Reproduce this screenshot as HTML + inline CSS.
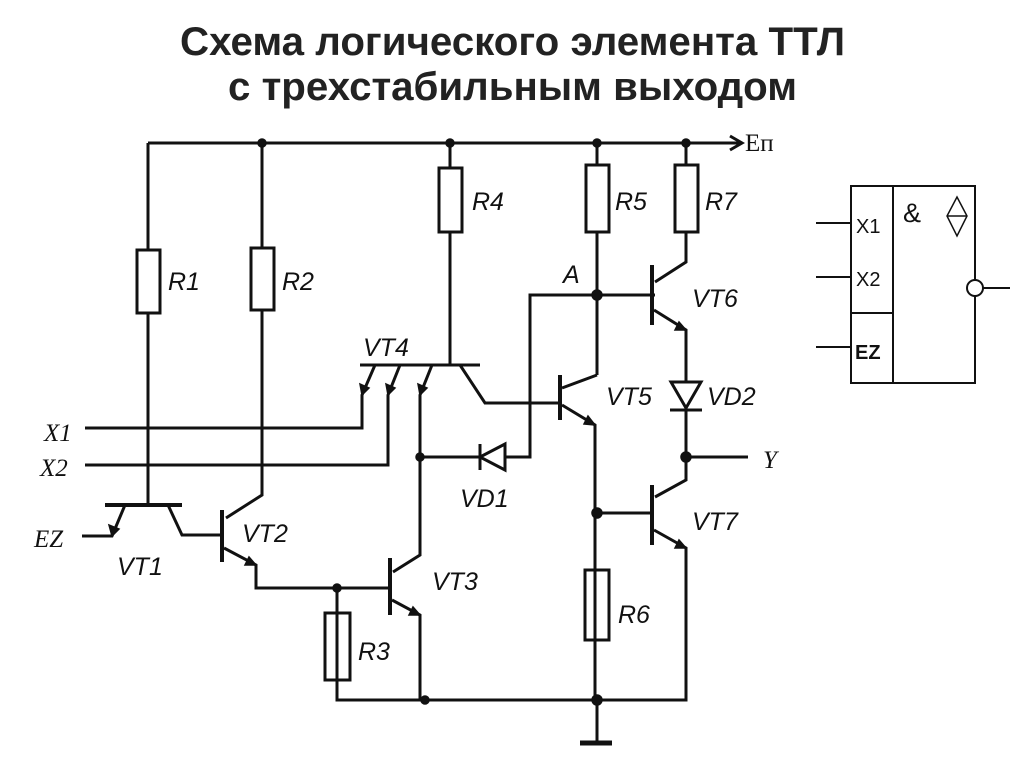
<!DOCTYPE html>
<html><head><meta charset="utf-8"><style>
html,body{margin:0;padding:0;background:#fff;}
svg{display:block}
.t{font-family:"Liberation Sans",sans-serif;font-weight:bold;font-size:40px;fill:#222}
.l{font-family:"Liberation Sans",sans-serif;font-style:italic;font-size:25px;fill:#111}
.s{font-family:"Liberation Serif",serif;font-style:italic;font-size:25px;fill:#111}
</style></head><body>
<svg width="1024" height="767" viewBox="0 0 1024 767">
<text class="t" x="180" y="55" textLength="665" lengthAdjust="spacingAndGlyphs">Схема логического элемента ТТЛ</text>
<text class="t" x="228" y="100" textLength="569" lengthAdjust="spacingAndGlyphs">с трехстабильным выходом</text>
<g stroke="#111" stroke-width="3" fill="none">
<path d="M148 143H742M730 136L742 143L730 150"/>
<path d="M148 143V250M148 313V505"/><rect x="137" y="250" width="23" height="63"/>
<path d="M262 143V248M262 310V495L226 518"/><rect x="251" y="248" width="23" height="62"/>
<path d="M450 143V168M450 232V365"/><rect x="439" y="168" width="23" height="64"/>
<path d="M597 143V165M597 232V375"/><rect x="586" y="165" width="23" height="67"/>
<path d="M686 143V165M686 232V262L655 282"/><rect x="675" y="165" width="23" height="67"/>
<path d="M360 365H480"/>
<path d="M375 365L362 395V428H85"/>
<path d="M400 365L388 395V465H85"/>
<path d="M432 365L420 395V457"/>
<path d="M460 365L485 403H558"/>
<path d="M420 457H530V295H655"/>
<path d="M420 457V555L393 572"/>
<path d="M560 375V420" stroke-width="4"/>
<path d="M562 388L597 375M562 405L595 425V700"/>
<path d="M652 265V325" stroke-width="4"/>
<path d="M654 310L686 330V457H748M686 457V480L655 497"/>
<path d="M652 485V545" stroke-width="4"/>
<path d="M597 513H652M654 530L686 548V700H337V588"/>
<path d="M105 505H182" stroke-width="4"/>
<path d="M125 505L112 536H82M168 505L182 535H222"/>
<path d="M222 510V562" stroke-width="4"/>
<path d="M224 548L256 565V588H390"/>
<path d="M390 558V615" stroke-width="4"/>
<path d="M392 600L420 615V700"/>
<rect x="325" y="613" width="25" height="67"/>
<rect x="585" y="570" width="24" height="70"/>
<path d="M597 700V742"/>
<path d="M580 743H612" stroke-width="5"/>
</g>
<g fill="#111" stroke="#111" stroke-width="1.5">
<path d="M362 395L360 384L369 388Z"/>
<path d="M388 395L386 384L395 388Z"/>
<path d="M420 395L418 384L427 388Z"/>
<path d="M112 536L109 525L119 529Z"/>
<path d="M256 565L245 565L249 557Z"/>
<path d="M420 615L409 615L413 607Z"/>
<path d="M595 425L584 424L588 416Z"/>
<path d="M686 330L675 330L679 322Z"/>
<path d="M686 548L675 548L679 540Z"/>
<circle cx="262" cy="143" r="4"/><circle cx="450" cy="143" r="4"/><circle cx="597" cy="143" r="4"/><circle cx="686" cy="143" r="4"/>
<circle cx="597" cy="295" r="5"/><circle cx="420" cy="457" r="4"/><circle cx="686" cy="457" r="5"/>
<circle cx="597" cy="513" r="5"/><circle cx="337" cy="588" r="4"/><circle cx="425" cy="700" r="4"/><circle cx="597" cy="700" r="5"/>
</g>
<g stroke="#111" stroke-width="3" fill="#fff">
<path d="M505 444L505 470L480 457Z"/>
<path d="M480 444V470"/>
<path d="M671 382H701L686 408Z"/>
<path d="M670 410H702"/>
</g>
<text font-family="Liberation Serif,serif" font-size="25" fill="#111" x="745" y="151">Eп</text>
<text class="l" x="168" y="290">R1</text>
<text class="l" x="282" y="290">R2</text>
<text class="l" x="472" y="210">R4</text>
<text class="l" x="615" y="210">R5</text>
<text class="l" x="705" y="210">R7</text>
<text class="l" x="363" y="356">VT4</text>
<text class="l" x="563" y="283">A</text>
<text class="l" x="692" y="307">VT6</text>
<text class="l" x="606" y="405">VT5</text>
<text class="l" x="707" y="405">VD2</text>
<text class="s" x="763" y="468">Y</text>
<text class="l" x="692" y="530">VT7</text>
<text class="l" x="460" y="507">VD1</text>
<text class="l" x="242" y="542">VT2</text>
<text class="l" x="117" y="575">VT1</text>
<text class="l" x="432" y="590">VT3</text>
<text class="l" x="358" y="660">R3</text>
<text class="l" x="618" y="623">R6</text>
<text class="s" x="44" y="441">X1</text>
<text class="s" x="40" y="476">X2</text>
<text class="s" x="34" y="547">EZ</text>
<g stroke="#111" stroke-width="2" fill="none">
<rect x="851" y="186" width="124" height="197"/>
<path d="M893 186V383M851 313H893M816 223H851M816 277H851M816 347H851M983 288H1010"/>
<circle cx="975" cy="288" r="8" fill="#fff"/>
<path d="M957 197L967 216L957 236L947 216ZM947 216H967" stroke-width="1.5"/>
</g>
<g font-family="Liberation Sans,sans-serif" font-size="20" fill="#111">
<text x="856" y="233">X1</text>
<text x="856" y="286">X2</text>
<text x="855" y="359" font-weight="bold">EZ</text>
<text x="903" y="222" font-size="27">&amp;</text>
</g>
</svg>
</body></html>
